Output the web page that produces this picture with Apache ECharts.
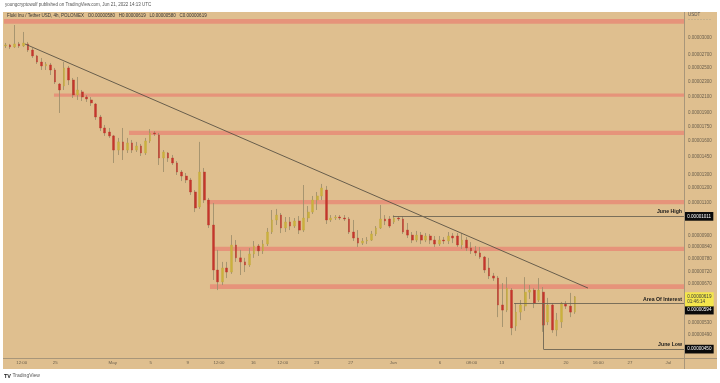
<!DOCTYPE html>
<html><head><meta charset="utf-8">
<script src="https://cdn.jsdelivr.net/npm/echarts@6/dist/echarts.min.js"></script>
<style>html,body{margin:0;padding:0;background:#fff}#c{width:720px;height:383px}</style>
</head><body><div id="c"></div>
<script>
// All prices are in units of 1e-8 USDT
const candleStart = Date.UTC(2022, 3, 19, 0, 0); // first 12h candle (centre)
const candleStepHours = 12;
// [open, close, low, high]
const candles = [
[2858,2875,2823,2910],[2875,2840,2806,2893],[2840,2893,2823,3247],[2893,2858,2823,2928],
[2858,2910,2840,3112],[2893,2788,2754,2928],[2788,2689,2656,2823],[2689,2591,2560,2705],
[2591,2530,2468,2656],[2530,2560,2468,2591],[2545,2468,2394,2576],[2468,2294,2266,2499],
[2266,2185,1899,2280],[2239,2499,2185,2591],[2499,2322,2252,2530],[2322,2119,2081,2351],
[2119,2185,2056,2365],[2159,2093,2043,2185],[2093,2068,2031,2119],[2056,2019,1982,2093],
[2006,1853,1820,2019],[1853,1733,1701,1876],[1733,1681,1651,1765],[1691,1651,1631,1733],
[1651,1515,1400,1661],[1515,1592,1470,1631],[1592,1515,1426,1733],[1515,1582,1488,1631],
[1582,1515,1488,1611],[1515,1553,1497,1592],[1553,1488,1461,1572],[1488,1601,1470,1631],
[1601,1681,1582,1722],[1681,1671,1651,1701],[1661,1443,1383,1681],[1443,1497,1325,1515],
[1488,1443,1409,1497],[1443,1400,1383,1470],[1400,1325,1301,1417],[1325,1293,1254,1341],
[1293,1262,1239,1317],[1262,1173,1152,1278],[1173,1064,1038,1187],[1071,1325,1058,1592],
[1325,1117,1097,1358],[1117,959,942,1131],[959,729,686,1097],[729,678,645,824],
[678,738,665,766],[738,720,694,766],[720,849,712,902],[849,785,766,875],
[785,766,707,824],[766,752,720,785],[752,804,743,834],[804,844,785,870],
[844,819,794,854],[819,854,804,875],[854,919,844,942],[919,989,908,1051],
[989,1019,959,1058],[1019,942,913,1032],[942,977,919,1007],[977,953,930,1007],
[953,983,942,1001],[983,930,908,1013],[930,1001,919,1224],[1001,1038,977,1077],
[1038,1117,1026,1145],[1117,1145,1051,1173],[1145,1202,1117,1232],[1187,989,965,1217],
[989,1001,977,1019],[1001,1007,989,1019],[1007,1001,989,1019],[1001,995,983,1019],
[995,919,908,1007],[919,886,870,989],[886,859,839,930],[859,870,849,886],
[870,875,854,891],[875,908,870,925],[908,942,897,953],[942,995,936,1084],
[995,983,959,1019],[995,953,942,1013],[977,1001,965,1019],[1001,995,983,1013],
[995,919,908,1013],[930,902,886,971],[902,875,859,919],[875,902,864,925],
[902,875,854,919],[875,897,864,913],[897,875,854,908],[875,854,839,897],
[854,875,844,897],[875,870,854,891],[870,897,854,919],[897,886,859,913],
[897,849,839,913],[849,875,829,913],[875,834,819,891],[834,819,804,864],
[819,809,794,844],[809,789,780,839],[789,729,716,794],[738,703,690,785],
[703,694,682,716],[694,589,547,703],[589,571,515,673],[571,653,564,698],
[645,512,490,653],[518,564,503,596],[564,589,537,607],[585,637,568,698],
[637,645,611,665],[645,596,578,653],[607,645,600,694],[637,521,500,657],
[531,589,521,615],[589,506,497,596],[506,537,487,561],[531,596,512,600],
[592,585,575,603],[585,564,547,634],[564,619,558,622]
];

// right price scale tick labels
const priceTicks = [3000,2700,2500,2300,2100,1900,1750,1600,1450,1300,1200,1100,900,840,780,720,670,530,490];
// time scale tick labels
const timeTickLabels = ['12:00','25','May','5','9','12:00','16','12:00','23','27','Jun','6','08:00','13','20','16:00','27','Jul'];
const timeTickTimes = ['2022-04-20T19:30Z','2022-04-24T12:15Z','2022-04-30T21:00Z','2022-05-05T02:00Z','2022-05-09T04:00Z',
 '2022-05-12T15:00Z','2022-05-16T10:20Z','2022-05-19T16:20Z','2022-05-23T10:30Z','2022-05-27T04:50Z','2022-05-31T22:00Z',
 '2022-06-06T02:00Z','2022-06-09T14:00Z','2022-06-12T22:00Z','2022-06-20T00:30Z','2022-06-23T14:00Z','2022-06-27T02:30Z','2022-07-01T08:00Z'];

// resistance / support zones: [start time, low, high]  (null start = from left edge)
const zones = [
 [null, 3270, 3370],
 ['2022-04-24T09:00Z', 2095, 2140],
 ['2022-05-02T16:15Z', 1660, 1705],
 ['2022-05-11T07:20Z', 1088, 1117],
 ['2022-05-11T23:15Z', 819, 840],
 ['2022-05-11T15:15Z', 649, 668]
];

const trendLine = [['2022-04-21T04:05Z', 2892], ['2022-06-22T10:48Z', 653]];
const juneHigh = 1011, juneHighStart = '2022-05-31T21:00Z';
const areaOfInterest = 594, areaStart = '2022-06-14T06:30Z';
const juneLow = 450, juneLowStart = '2022-06-17T12:40Z';
const lastPrice = 619, countdown = '01:46:14';

const axisMin = Date.parse('2022-04-18T20:24Z');
const axisMax = Date.parse('2022-07-03T01:42Z');

const fmtPrice = v => (v / 1e8).toFixed(8);
const T = s => Date.parse(s);

const candleData = candles.map((c, i) => [candleStart + i * candleStepHours * 3600e3, c[0], c[1], c[2], c[3]]);
const bodyData = candles.map((c, i) => [candleStart + i * candleStepHours * 3600e3, c[0], c[1], Math.min(c[0], c[1]), Math.max(c[0], c[1])]);
const tickMs = timeTickTimes.map(T);

const TAN = '#dfbf8f';
const AX = '#a8967a';
const LBL = '#6a5e4c';
const lineCol = '#6e6553';
const FONT = 'Liberation Sans, Arial, sans-serif';
const HIDDEN = { color: 'rgba(0,0,0,0)', width: 0 };

const boxLabel = (txt, bg, fg, off) => ({
  show: true, position: 'end', distance: 1, formatter: txt, backgroundColor: bg, color: fg,
  fontSize: 4.6, fontFamily: FONT, padding: [1.6, 2.2], offset: off || [0, 0], lineHeight: 5.5
});
const noteLabel = txt => ({
  show: true, position: 'insideEndTop', distance: 2, formatter: txt, color: '#1a1a1a',
  fontSize: 5.2, fontWeight: 'bold', fontFamily: FONT
});

const chart = echarts.init(document.getElementById('c'), null, { renderer: 'canvas', width: 720, height: 383 });
chart.setOption({
  animation: false,
  backgroundColor: '#ffffff',
  graphic: [
    { type: 'rect', z: -10, silent: true, shape: { x: 3, y: 12, width: 714, height: 357 }, style: { fill: TAN } },
    { type: 'line', z: 50, silent: true, shape: { x1: 684.5, y1: 12, x2: 684.5, y2: 369 }, style: { stroke: AX, lineWidth: 1 } },
    { type: 'line', z: 50, silent: true, shape: { x1: 3, y1: 358.5, x2: 717, y2: 358.5 }, style: { stroke: AX, lineWidth: 1 } },
    { type: 'line', z: 50, silent: true, shape: { x1: 688, y1: 19.5, x2: 712, y2: 19.5 }, style: { stroke: '#b8a686', lineWidth: 0.6, lineDash: [2, 1] } },
    { type: 'text', z: 100, silent: true, x: 5, y: 5, style: { text: 'youngcryptowolf published on TradingView.com, Jun 21, 2022 14:13 UTC', fill: '#555', fontSize: 4.5, fontFamily: FONT, verticalAlign: 'middle' } },
    { type: 'text', z: 100, silent: true, x: 7, y: 15.5, style: { text: 'Floki Inu / Tether USD, 4h, POLONIEX   O0.00000580   H0.00000619   L0.00000580   C0.00000619', fill: '#333', fontSize: 4.5, fontFamily: FONT, verticalAlign: 'middle' } },
    { type: 'text', z: 100, silent: true, x: 688, y: 15, style: { text: 'USDT', fill: '#555', fontSize: 4.5, fontFamily: FONT, verticalAlign: 'middle' } },
    { type: 'text', z: 100, silent: true, x: 4, y: 376, style: { text: '{b|TV} TradingView', fill: '#555', fontSize: 5, fontFamily: FONT, verticalAlign: 'middle', rich: { b: { fontSize: 5.5, fontWeight: 'bold', fill: '#222' } } } }
  ],
  grid: { left: 4, right: 36, top: 12, bottom: 25 },
  xAxis: {
    type: 'value', min: axisMin, max: axisMax,
    axisLine: { show: false }, axisTick: { show: false }, splitLine: { show: false },
    axisLabel: { customValues: tickMs, formatter: v => { const i = tickMs.indexOf(v); return i >= 0 ? timeTickLabels[i] : ''; }, fontSize: 4.4, color: LBL, margin: 3, hideOverlap: false, fontFamily: FONT }
  },
  yAxis: {
    type: 'log', logBase: 10, min: 426.3, max: 3515, position: 'right',
    axisLine: { show: false }, axisTick: { show: false }, splitLine: { show: false },
    axisLabel: { customValues: priceTicks, formatter: fmtPrice, fontSize: 4.5, color: LBL, margin: 4, fontFamily: FONT }
  },
  series: [
    {
      name: 'wicks', type: 'candlestick', data: candleData, barWidth: 1, z: 3, clip: false,
      itemStyle: { color: '#a0906c', color0: '#a0906c', borderColor: '#a0906c', borderColor0: '#a0906c', borderWidth: 0.9 },
      markArea: {
        silent: true, z: 1,
        itemStyle: { color: '#e6937a' },
        data: zones.map(z => [{ coord: [z[0] ? T(z[0]) : axisMin, z[1]] }, { coord: [axisMax, z[2]] }])
      },
      markLine: {
        silent: true, symbol: ['none', 'none'], z: 5,
        lineStyle: { color: lineCol, width: 0.9, type: 'solid' },
        label: { show: false },
        data: [
          [{ coord: [T(trendLine[0][0]), trendLine[0][1]], lineStyle: { color: '#5a5244', width: 0.9 } }, { coord: [T(trendLine[1][0]), trendLine[1][1]] }],
          [{ coord: [T(juneHighStart), juneHigh], label: noteLabel('June High') }, { coord: [axisMax, juneHigh] }],
          [{ coord: [T(areaStart), areaOfInterest], label: noteLabel('Area Of Interest') }, { coord: [axisMax, areaOfInterest] }],
          [{ coord: [T(juneLowStart), areaOfInterest] }, { coord: [T(juneLowStart), juneLow] }],
          [{ coord: [T(juneLowStart), juneLow], label: noteLabel('June Low') }, { coord: [axisMax, juneLow] }],
          { yAxis: juneHigh, lineStyle: HIDDEN, label: boxLabel(fmtPrice(juneHigh), '#0a0a0a', '#ffffff') },
          { yAxis: areaOfInterest, lineStyle: HIDDEN, label: boxLabel(fmtPrice(areaOfInterest), '#0a0a0a', '#ffffff', [0, 6.5]) },
          { yAxis: juneLow, lineStyle: HIDDEN, label: boxLabel(fmtPrice(juneLow), '#0a0a0a', '#ffffff') },
          { yAxis: lastPrice, lineStyle: HIDDEN, label: boxLabel(fmtPrice(lastPrice) + '\n' + countdown, '#f4e64c', '#3a3a3a', [0, 2.5]) }
        ]
      }
    },
    {
      name: 'bodies', type: 'candlestick', data: bodyData, barWidth: 2.2, z: 4,
      itemStyle: { color: '#cbb13c', color0: '#c5352b', borderColor: '#c2a83e', borderColor0: '#b9372d', borderWidth: 0.4 }
    }
  ]
});
</script>
</body></html>
